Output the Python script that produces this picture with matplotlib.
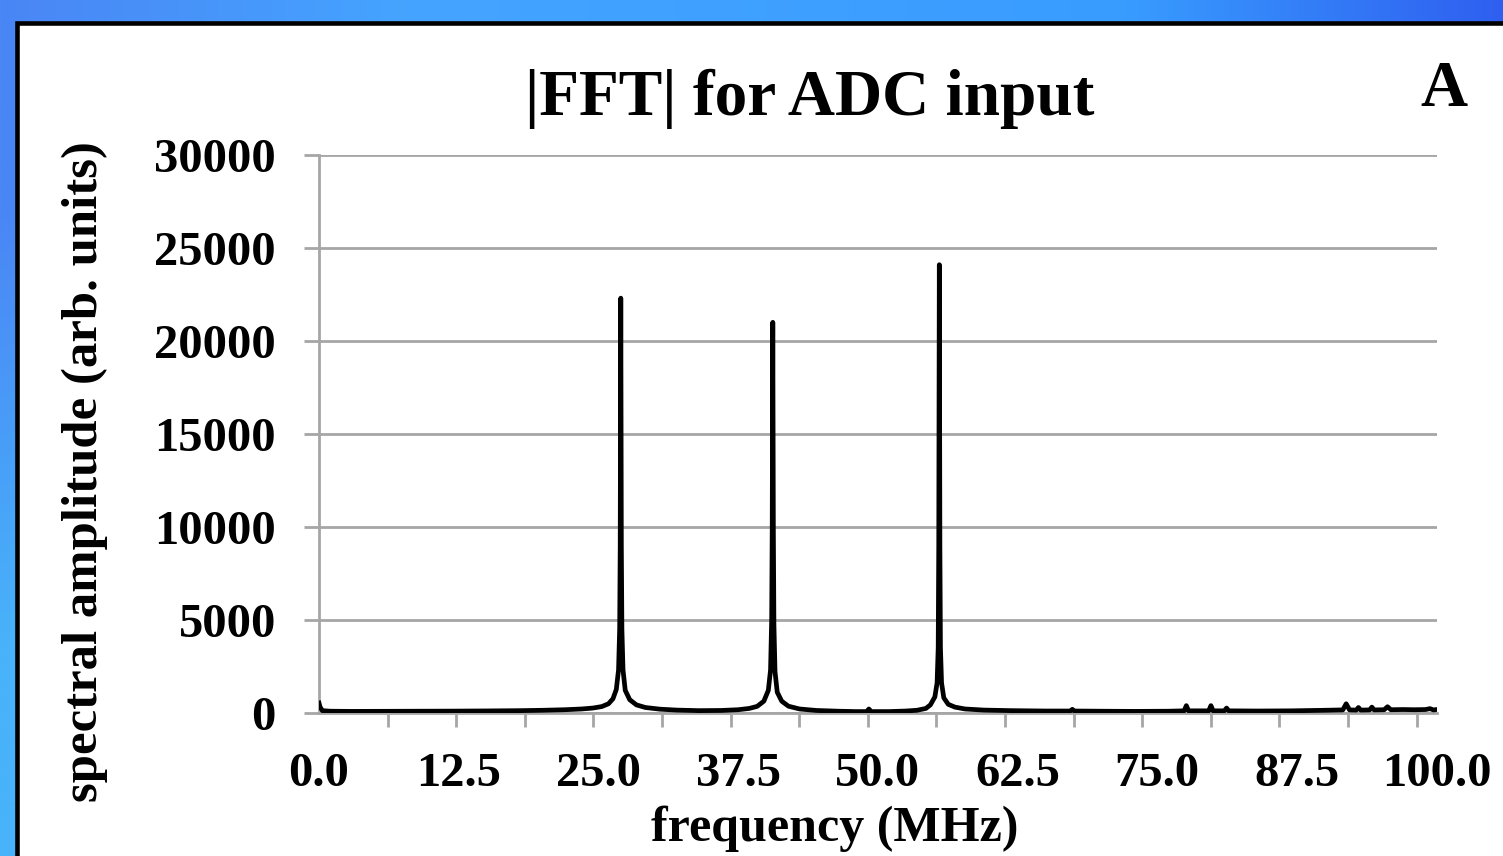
import numpy as np
import matplotlib.pyplot as plt
from matplotlib.patches import Rectangle
from matplotlib.colors import to_rgb

# spectrum (MHz, arb. units)
freq = [0.0, 0.1, 0.3, 1.0, 3.0, 6.0, 9.0, 12.0, 15.0, 18.0, 20.0, 22.0,
        23.5, 24.5, 25.3, 25.9, 26.3, 26.6, 26.8, 26.9, 26.95, 27.0, 27.05,
        27.1, 27.2, 27.4, 27.8, 28.4, 29.2, 30.5, 32.0, 34.0, 36.0, 37.5,
        38.5, 39.2, 39.8, 40.2, 40.4, 40.5, 40.55, 40.6, 40.65, 40.7, 40.8,
        41.0, 41.4, 42.0, 43.0, 44.5, 46.5, 48.0, 49.0, 49.2, 49.4, 51.0,
        52.5, 53.5, 54.3, 54.7, 55.1, 55.3, 55.4, 55.45, 55.5, 55.55, 55.6,
        55.7, 55.9, 56.3, 56.9, 57.8, 59.5, 62.0, 65.0, 67.2, 67.4, 67.6,
        70.0, 73.0, 76.0, 77.4, 77.6, 77.8, 79.6, 79.8, 80.0, 81.0, 81.2,
        81.4, 84.0, 87.0, 90.0, 91.6, 91.9, 92.2, 92.8, 93.0, 93.2, 94.0,
        94.2, 94.4, 95.3, 95.6, 95.9, 97.0, 98.0, 99.0, 99.4, 99.7, 100.0]
amp = [520, 300, 110, 80, 70, 75, 80, 85, 95, 110, 130, 160,
       200, 250, 330, 480, 750, 1250, 2300, 4500, 9000, 22300, 9000,
       4500, 2300, 1200, 700, 420, 280, 190, 140, 110, 120, 160,
       230, 340, 620, 1200, 2300, 5000, 10000, 21000, 10000, 4800, 2200,
       1100, 620, 350, 200, 120, 80, 60, 60, 200, 60, 60,
       90, 130, 230, 420, 850, 1600, 3500, 9000, 24100, 9000, 3500,
       1600, 800, 450, 300, 200, 140, 110, 90, 90, 180, 90,
       80, 70, 80, 100, 380, 100, 100, 380, 100, 100, 250,
       100, 90, 100, 130, 150, 480, 150, 140, 280, 140, 150,
       300, 150, 160, 320, 160, 170, 160, 170, 220, 150, 170]

y_ticks = [0, 5000, 10000, 15000, 20000, 25000, 30000]
x_labels = [0.0, 12.5, 25.0, 37.5, 50.0, 62.5, 75.0, 87.5, 100.0]

W, H = 1503, 856
fig = plt.figure(figsize=(W / 100, H / 100), dpi=100)
plt.rcParams['font.family'] = ['Liberation Serif', 'DejaVu Serif']

# blue gradient backdrop
bg = fig.add_axes([0, 0, 1, 1], zorder=-10)
bg.axis('off')
xs = np.linspace(0, 1, 300)
stops = [0.0, 0.27, 0.75, 1.0]
cols = [to_rgb(c) for c in ['#4a86f5', '#45a4ff', '#389cff', '#2f5ff0']]
row = np.stack([np.interp(xs, stops, [c[i] for c in cols]) for i in range(3)], axis=-1)
img = np.repeat(row[None, :, :], 2, axis=0)
img[1, :8] = to_rgb('#48b2fa')
bg.imshow(img, aspect='auto', extent=[0, 1, 0, 1], interpolation='bilinear')
bg.set_xlim(0, 1)
bg.set_ylim(0, 1)

# white panel with black frame
fig.patches.append(Rectangle((17 / W, -0.1), 1.2, 1 - 23 / H + 0.1,
                             transform=fig.transFigure, facecolor='white',
                             edgecolor='black', linewidth=3.3, zorder=-5))

ax = fig.add_axes([319 / W, 1 - 712.7 / H, (1436.7 - 319) / W, (712.7 - 155) / H])
ax.set_facecolor('none')
ax.plot(freq, amp, color='black', linewidth=3.4, solid_joinstyle='round', zorder=3)

ax.set_xlim(0, 100)
ax.set_ylim(0, 30000)
ax.set_yticks(y_ticks)
ax.set_yticklabels([str(v) for v in y_ticks])
ax.set_xticks(x_labels)
ax.set_xticklabels([f'{v:.1f}' for v in x_labels])
ax.set_xticks(np.linspace(0, 98.2, 17), minor=True)

grey = '#a6a6a6'
ax.grid(axis='y', color=grey, linewidth=2)
for s in ['top', 'right']:
    ax.spines[s].set_visible(False)
for s in ['left', 'bottom']:
    ax.spines[s].set_color(grey)
    ax.spines[s].set_linewidth(2)
ax.tick_params(axis='y', which='major', length=11, width=2, color=grey, pad=20,
               labelsize=35)
ax.tick_params(axis='x', which='major', length=0, pad=28, labelsize=35)
ax.tick_params(axis='x', which='minor', length=10, width=2, color=grey)
for lab in ax.get_xticklabels() + ax.get_yticklabels():
    lab.set_fontweight('bold')

fig.text(810 / W, 1 - 99 / H, '|FFT| for ADC input', ha='center', va='center',
         fontsize=47, fontweight='bold')
fig.text(1444 / W, 1 - 90 / H, 'A', ha='center', va='center',
         fontsize=47, fontweight='bold')
fig.text(835 / W, 1 - 829 / H, 'frequency (MHz)', ha='center', va='center',
         fontsize=36, fontweight='bold')
fig.text(85 / W, 1 - 472 / H, 'spectral amplitude (arb. units)', ha='center',
         va='center', rotation=90, fontsize=36.5, fontweight='bold')

fig.savefig('out.png', dpi=100)
